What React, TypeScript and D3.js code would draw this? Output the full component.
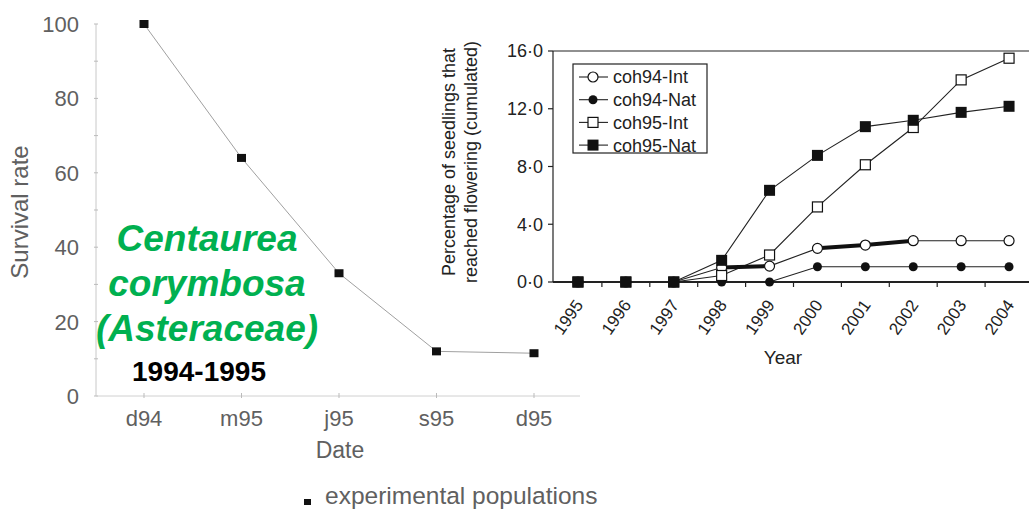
import React from "react";
import * as d3 from "d3";

// ---------- Left chart data ----------
const survivalDates = ["d94", "m95", "j95", "s95", "d95"];
const survivalValues = [100, 64, 33, 12, 11.5];
const survivalTicks = [0, 20, 40, 60, 80, 100];

// ---------- Right chart data ----------
const years = ["1995", "1996", "1997", "1998", "1999", "2000", "2001", "2002", "2003", "2004"];
const coh94Int = [0, 0, 0, 1.0, 1.1, 2.33, 2.56, 2.86, 2.86, 2.86];
const coh94Nat = [0, 0, 0, 0, 0, 1.06, 1.06, 1.06, 1.06, 1.06];
const coh95Int = [0, 0, 0, 0.45, 1.87, 5.2, 8.12, 10.7, 14.0, 15.5];
const coh95Nat = [0, 0, 0, 1.5, 6.35, 8.77, 10.76, 11.2, 11.75, 12.17];
const flowerTicks = [0, 4, 8, 12, 16];
const seriesNames = ["coh94-Int", "coh94-Nat", "coh95-Int", "coh95-Nat"];
// thick highlighted spans on coh94-Int
const highlightSpans = [["1998", "1999"], ["2000", "2002"]];

const GRAY = "#606060";
const SANS = "'Liberation Sans', Arial, Helvetica, sans-serif";

type Shape = "circleOpen" | "circleFilled" | "squareOpen" | "squareFilled";
const seriesDefs: { name: string; values: number[]; shape: Shape }[] = [
  { name: seriesNames[0], values: coh94Int, shape: "circleOpen" },
  { name: seriesNames[1], values: coh94Nat, shape: "circleFilled" },
  { name: seriesNames[2], values: coh95Int, shape: "squareOpen" },
  { name: seriesNames[3], values: coh95Nat, shape: "squareFilled" },
];

function Marker({ shape, x, y }: { shape: Shape; x: number; y: number }) {
  switch (shape) {
    case "circleOpen":
      return <circle cx={x} cy={y} r={5} fill="#fff" stroke="#111" strokeWidth={1.2} />;
    case "circleFilled":
      return <circle cx={x} cy={y} r={4.5} fill="#111" />;
    case "squareOpen":
      return <rect x={x - 5} y={y - 5} width={10} height={10} fill="#fff" stroke="#111" strokeWidth={1.2} />;
    default:
      return <rect x={x - 5.5} y={y - 5.5} width={11} height={11} fill="#111" />;
  }
}

export default function App() {
  // Left chart scales
  const xL = d3.scalePoint<string>().domain(survivalDates).range([144, 534]);
  const yL = d3.scaleLinear().domain([0, 100]).range([396, 24]);
  const leftLine = d3
    .line<number>()
    .x((_, i) => xL(survivalDates[i]) as number)
    .y((d) => yL(d));

  // Right chart scales
  const xR = d3.scaleBand<string>().domain(years).range([554, 1033]);
  const yR = d3.scaleLinear().domain([0, 16]).range([282, 51]);
  const cx = (yr: string) => (xR(yr) as number) + xR.bandwidth() / 2;
  const rightLine = d3
    .line<number>()
    .x((_, i) => cx(years[i]))
    .y((d) => yR(d));
  const fmt = (v: number) => d3.format(".1f")(v).replace(".", "\u00b7");

  const minorL = d3.range(0, 101, 10);

  return (
    <svg width={1029} height={513} style={{ position: "absolute", left: 0, top: 0, background: "#fff" }}>
      {/* ================= LEFT CHART ================= */}
      <g fontFamily={SANS} fill={GRAY}>
        {/* y axis */}
        <line x1={96} x2={96} y1={yL(100)} y2={yL(0)} stroke="#c8c8c8" strokeWidth={1} />
        {minorL.map((t) => (
          <line key={"mt" + t} x1={94} x2={98} y1={yL(t)} y2={yL(t)} stroke="#bbb" strokeWidth={1} />
        ))}
        {survivalTicks.map((t) => (
          <text key={"yl" + t} x={79} y={yL(t)} dy="0.36em" textAnchor="end" fontSize={22}>
            {t}
          </text>
        ))}
        <text transform={`translate(28,212) rotate(-90)`} textAnchor="middle" fontSize={24}>
          Survival rate
        </text>
        {/* x axis */}
        <line x1={96} x2={580} y1={yL(0)} y2={yL(0)} stroke="#d0d0d0" strokeWidth={1} />
        {survivalDates.map((d) => (
          <g key={"xt" + d}>
            <line x1={xL(d)} x2={xL(d)} y1={yL(0) - 3} y2={yL(0) + 2} stroke="#bbb" />
            <text x={xL(d)} y={426} textAnchor="middle" fontSize={22}>
              {d}
            </text>
          </g>
        ))}
        <text x={340} y={458} textAnchor="middle" fontSize={23}>
          Date
        </text>
        {/* line + markers */}
        <path d={leftLine(survivalValues) || ""} fill="none" stroke="#a0a0a0" strokeWidth={1} />
        {survivalValues.map((v, i) => (
          <rect
            key={"lm" + i}
            x={(xL(survivalDates[i]) as number) - 4.5}
            y={yL(v) - 4}
            width={9}
            height={8}
            fill="#111"
          />
        ))}
        {/* legend */}
        <rect x={304} y={499} width={7} height={6} fill="#111" />
        <text x={325} y={504} fontSize={24.5}>
          experimental populations
        </text>
      </g>

      {/* annotation text */}
      <g fontFamily={SANS} fontWeight="bold" fontStyle="italic" fill="#00b050" fontSize={37} textAnchor="middle">
        <text x={207} y={251}>Centaurea</text>
        <text x={207} y={296}>corymbosa</text>
        <text x={207} y={341}>(Asteraceae)</text>
      </g>
      <text x={199} y={381} fontFamily={SANS} fontWeight="bold" fontSize={28} fill="#000" textAnchor="middle">
        1994-1995
      </text>

      {/* ================= RIGHT CHART ================= */}
      <g fontFamily={SANS} fill="#222">
        {/* frame */}
        <line x1={553} x2={1029} y1={yR(16)} y2={yR(16)} stroke="#222" strokeWidth={1.2} />
        <line x1={553} x2={553} y1={yR(16)} y2={yR(0)} stroke="#222" strokeWidth={1.2} />
        <line x1={553} x2={1029} y1={yR(0)} y2={yR(0)} stroke="#222" strokeWidth={1.8} />
        {flowerTicks.map((t) => (
          <g key={"ry" + t}>
            <line x1={548} x2={553} y1={yR(t)} y2={yR(t)} stroke="#222" strokeWidth={1.2} />
            <text x={543} y={yR(t)} dy="0.36em" textAnchor="end" fontSize={18}>
              {fmt(t)}
            </text>
          </g>
        ))}
        {years.slice(1).map((yr) => (
          <line
            key={"rt" + yr}
            x1={xR(yr) as number}
            x2={xR(yr) as number}
            y1={yR(0)}
            y2={yR(0) + 5}
            stroke="#222"
            strokeWidth={1.2}
          />
        ))}
        {years.map((yr) => (
          <text
            key={"rx" + yr}
            transform={`translate(${cx(yr) + 6},${305}) rotate(-55)`}
            textAnchor="end"
            fontSize={17}
          >
            {yr}
          </text>
        ))}
        <text x={783} y={364} textAnchor="middle" fontSize={19}>
          Year
        </text>
        <text transform={`translate(455,162) rotate(-90)`} textAnchor="middle" fontSize={18}>
          Percentage of seedlings that
        </text>
        <text transform={`translate(477,162) rotate(-90)`} textAnchor="middle" fontSize={18}>
          reached flowering (cumulated)
        </text>

        {/* lines */}
        {seriesDefs.map((s) => (
          <path key={"l" + s.name} d={rightLine(s.values) || ""} fill="none" stroke="#222" strokeWidth={1.1} />
        ))}
        {/* highlighted spans on coh94-Int */}
        {highlightSpans.map(([a, b]) => {
          const i0 = years.indexOf(a);
          const i1 = years.indexOf(b);
          const pts = d3.range(i0, i1 + 1).map((i) => [cx(years[i]), yR(coh94Int[i])] as [number, number]);
          return <path key={"h" + a} d={d3.line()(pts) || ""} fill="none" stroke="#111" strokeWidth={4} />;
        })}
        {/* markers */}
        {seriesDefs.map((s) =>
          s.values.map((v, i) => <Marker key={s.name + i} shape={s.shape} x={cx(years[i])} y={yR(v)} />)
        )}

        {/* legend */}
        <rect x={573} y={64} width={134} height={89} fill="#fff" stroke="#222" strokeWidth={1.2} />
        {seriesDefs.map((s, i) => {
          const ly = 77 + i * 22.7;
          return (
            <g key={"lg" + s.name}>
              <line x1={579} x2={608} y1={ly} y2={ly} stroke="#222" strokeWidth={1.1} />
              <Marker shape={s.shape} x={593} y={ly} />
              <text x={613} y={ly} dy="0.36em" fontSize={18}>
                {s.name}
              </text>
            </g>
          );
        })}
      </g>
    </svg>
  );
}
